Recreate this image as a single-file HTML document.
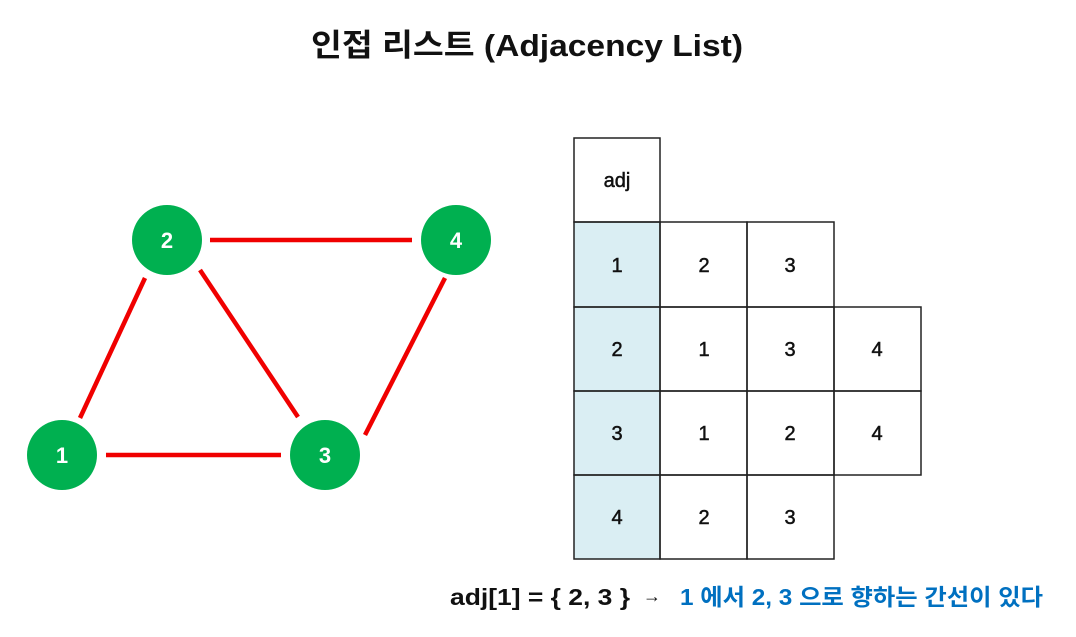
<!DOCTYPE html>
<html><head><meta charset="utf-8"><style>
body{margin:0;width:1076px;height:632px;background:#fff;overflow:hidden}
text{font-family:"Liberation Sans","Noto Sans CJK KR",sans-serif}
</style></head><body>
<svg width="1076" height="632" viewBox="0 0 1076 632" xmlns="http://www.w3.org/2000/svg">
<text x="311" y="56" textLength="432" lengthAdjust="spacingAndGlyphs" font-size="31" font-weight="bold" fill="#111">인접 리스트 (Adjacency List)</text>
<g stroke="#f00000" stroke-width="4.5">
<line x1="210" y1="240" x2="412" y2="240"/>
<line x1="145" y1="278" x2="80" y2="418"/>
<line x1="200" y1="270" x2="298" y2="417"/>
<line x1="445" y1="278" x2="365" y2="435"/>
<line x1="106" y1="455" x2="281" y2="455"/>
</g>
<g fill="#00b050">
<circle cx="167" cy="240" r="35"/><circle cx="456" cy="240" r="35"/>
<circle cx="62" cy="455" r="35"/><circle cx="325" cy="455" r="35"/>
</g>
<g fill="#fff" font-size="22" font-weight="bold" text-anchor="middle">
<text x="167" y="248">2</text><text x="456" y="248">4</text>
<text x="62" y="463">1</text><text x="325" y="463">3</text>
</g>
<g fill="#daeef3"><rect x="574" y="222" width="86" height="337"/></g>
<g fill="none" stroke="#222" stroke-width="1.5">
<rect x="574" y="138" width="86" height="84"/>
<rect x="574" y="222" width="86" height="85"/><rect x="660" y="222" width="87" height="85"/><rect x="747" y="222" width="87" height="85"/>
<rect x="574" y="307" width="86" height="84"/><rect x="660" y="307" width="87" height="84"/><rect x="747" y="307" width="87" height="84"/><rect x="834" y="307" width="87" height="84"/>
<rect x="574" y="391" width="86" height="84"/><rect x="660" y="391" width="87" height="84"/><rect x="747" y="391" width="87" height="84"/><rect x="834" y="391" width="87" height="84"/>
<rect x="574" y="475" width="86" height="84"/><rect x="660" y="475" width="87" height="84"/><rect x="747" y="475" width="87" height="84"/>
</g>
<g fill="#111" font-size="20" text-anchor="middle" stroke="#111" stroke-width="0.5">
<text x="617" y="187">adj</text>
<text x="617" y="272">1</text><text x="704" y="272">2</text><text x="790" y="272">3</text>
<text x="617" y="356">2</text><text x="704" y="356">1</text><text x="790" y="356">3</text><text x="877" y="356">4</text>
<text x="617" y="440">3</text><text x="704" y="440">1</text><text x="790" y="440">2</text><text x="877" y="440">4</text>
<text x="617" y="524">4</text><text x="704" y="524">2</text><text x="790" y="524">3</text>
</g>
<text x="450" y="605" textLength="180" lengthAdjust="spacingAndGlyphs" font-size="23" font-weight="bold" fill="#111">adj[1] = { 2, 3 }</text>
<text x="643" y="602" font-size="18" fill="#111">→</text>
<text x="680" y="605" textLength="363" lengthAdjust="spacingAndGlyphs" font-size="23" font-weight="bold" fill="#0070c0">1 에서 2, 3 으로 향하는 간선이 있다</text>
</svg>
</body></html>
